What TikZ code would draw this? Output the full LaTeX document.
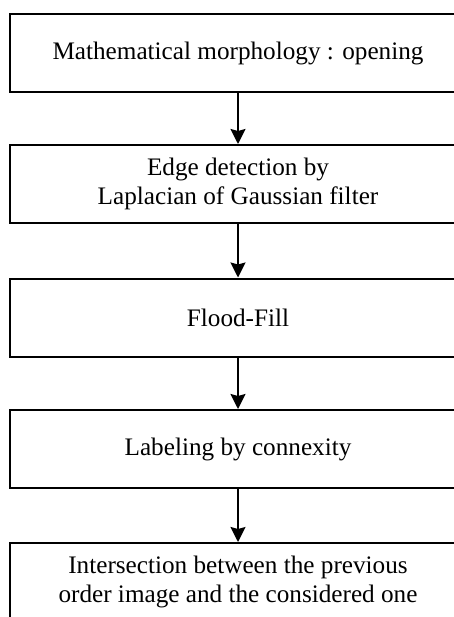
\documentclass[tikz,border=0pt]{standalone}
\usepackage{fontspec}
\setmainfont{Liberation Serif}
\usetikzlibrary{arrows.meta}
\begin{document}
\begin{tikzpicture}[x=1pt,y=-1pt,
  stepbox/.style={draw=black, line width=2pt, rectangle, minimum width=456pt, minimum height=78pt,
    align=center, inner sep=0pt, font=\fontsize{25.2}{28.5}\selectfont},
  flow/.style={line width=1.8pt, -{Stealth[length=15pt,width=15pt,inset=2pt]}}]
\useasboundingbox (0,0) rectangle (454,617);
\clip (0,0) rectangle (454,617);
\node[stepbox] (a) at (238,53) {Mathematical morphology : opening};
\node[stepbox] (b) at (238,184) {Edge detection by\\Laplacian of Gaussian filter};
\node[stepbox] (c) at (238,317.5) {Flood-Fill};
\node[stepbox] (d) at (238,449) {Labeling by connexity};
\node[stepbox] (e) at (238,582) {Intersection between the previous\\order image and the considered one};
\draw[flow] (a) -- (b);
\draw[flow] (b) -- (c);
\draw[flow] (c) -- (d);
\draw[flow] (d) -- (e);
\end{tikzpicture}
\end{document}
